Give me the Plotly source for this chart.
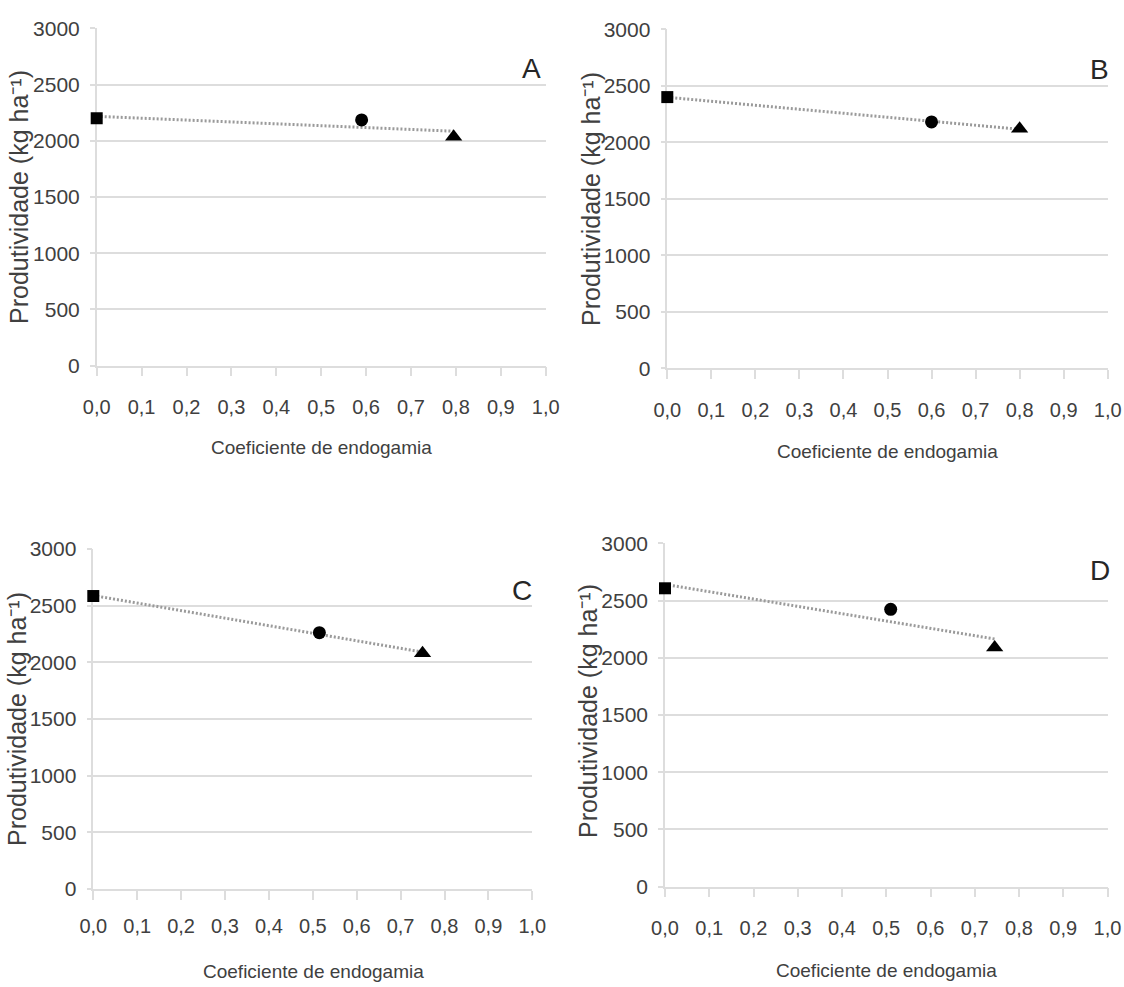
import numpy as np
import plotly.graph_objects as go

# ---------------- data ----------------
PANEL_LABELS = ["A", "B", "C", "D"]

X_A = [0.0, 0.59, 0.795]
Y_A = [2200, 2185, 2035]
X_B = [0.0, 0.60, 0.80]
Y_B = [2400, 2180, 2120]
X_C = [0.0, 0.515, 0.75]
Y_C = [2585, 2262, 2080]
X_D = [0.0, 0.51, 0.745]
Y_D = [2607, 2423, 2090]

X_TICKS = [0.0, 0.1, 0.2, 0.3, 0.4, 0.5, 0.6, 0.7, 0.8, 0.9, 1.0]
X_TICK_LABELS = ["0,0", "0,1", "0,2", "0,3", "0,4", "0,5", "0,6", "0,7", "0,8", "0,9", "1,0"]
Y_TICKS = [0, 500, 1000, 1500, 2000, 2500, 3000]
Y_TICK_LABELS = ["0", "500", "1000", "1500", "2000", "2500", "3000"]

X_TITLE = "Coeficiente de endogamia"
Y_TITLE = "Produtividade (kg ha⁻¹)"

# ---------------- style / layout ----------------
W, H = 1124, 987
FONT = "Liberation Sans, Arial, sans-serif"
TXT = "#404040"
GRID = "#dddddd"
SYMBOLS = ["square", "circle", "triangle-up"]
SIZES = [12, 13, 15]

# pixel geometry per panel: left, right, top (y=3000), bottom (y=0)
GEOM = [
    (96.7, 545.7, 28.3, 365.6),
    (667.3, 1107.7, 29.3, 368.3),
    (93.3, 532.3, 549.0, 889.0),
    (665.0, 1107.5, 543.3, 886.7),
]
XTITLE_POS = [(321, 447), (887, 451), (313, 971), (886, 970)]
YTITLE_POS = [(19, 197), (591, 199), (17, 719), (588, 711)]
LETTER_POS = [(531.7, 68.3), (1099, 70), (521.7, 590), (1099.6, 570)]
XLAB_STANDOFF = [14, 14, 9, 14]

data = [(X_A, Y_A), (X_B, Y_B), (X_C, Y_C), (X_D, Y_D)]

fig = go.Figure()
layout = dict(
    width=W, height=H,
    margin=dict(l=0, r=0, t=0, b=0, autoexpand=False),
    paper_bgcolor="white", plot_bgcolor="white",
    showlegend=False,
    annotations=[],
)

for i, (xs, ys) in enumerate(data):
    k = "" if i == 0 else str(i + 1)
    xa, ya = "x" + k, "y" + k
    l, r, t, b = GEOM[i]

    # linear trendline fitted from the data
    slope, intercept = np.polyfit(xs, ys, 1)
    xt = np.array([min(xs), max(xs)])
    fig.add_trace(go.Scatter(
        x=xt, y=intercept + slope * xt, mode="lines", xaxis=xa, yaxis=ya,
        line=dict(color="#9a9a9a", width=3, dash="2px,2px"),
        hoverinfo="skip", cliponaxis=False,
    ))
    for j in range(len(xs)):
        fig.add_trace(go.Scatter(
            x=[xs[j]], y=[ys[j]], mode="markers", xaxis=xa, yaxis=ya,
            marker=dict(symbol=SYMBOLS[j], size=SIZES[j], color="black",
                        line=dict(width=0)),
            cliponaxis=False,
        ))

    layout["xaxis" + k] = dict(
        domain=[l / W, r / W], anchor=ya, range=[0, 1],
        tickvals=X_TICKS, ticktext=X_TICK_LABELS,
        showgrid=False, zeroline=False, automargin=False,
        showline=True, linecolor=GRID, linewidth=1.5, layer="below traces",
        ticks="outside", ticklen=9, tickcolor=GRID, tickwidth=1.5,
        ticklabelstandoff=XLAB_STANDOFF[i],
        tickfont=dict(family=FONT, size=20, color=TXT),
        fixedrange=True,
    )
    layout["yaxis" + k] = dict(
        domain=[1 - b / H, 1 - t / H], anchor=xa, range=[0, 3000],
        tickvals=Y_TICKS, ticktext=Y_TICK_LABELS,
        showgrid=True, gridcolor=GRID, gridwidth=1.5, zeroline=False,
        automargin=False,
        showline=True, linecolor=GRID, linewidth=1.5, layer="below traces",
        ticks="outside", ticklen=5, tickcolor=GRID, tickwidth=1.5,
        ticklabelstandoff=6,
        tickfont=dict(family=FONT, size=21, color=TXT),
        fixedrange=True,
    )

    px_, py_ = XTITLE_POS[i]
    layout["annotations"].append(dict(
        text=X_TITLE, x=px_ / W, y=1 - py_ / H, xref="paper", yref="paper",
        xanchor="center", yanchor="middle", showarrow=False,
        font=dict(family=FONT, size=19, color=TXT)))
    px_, py_ = YTITLE_POS[i]
    layout["annotations"].append(dict(
        text=Y_TITLE, x=px_ / W, y=1 - py_ / H, xref="paper", yref="paper",
        xanchor="center", yanchor="middle", showarrow=False, textangle=-90,
        font=dict(family=FONT, size=25, color=TXT)))
    px_, py_ = LETTER_POS[i]
    layout["annotations"].append(dict(
        text=PANEL_LABELS[i], x=px_ / W, y=1 - py_ / H, xref="paper", yref="paper",
        xanchor="center", yanchor="middle", showarrow=False,
        font=dict(family=FONT, size=28, color="#262626")))

fig.update_layout(**layout)
fig.write_html("out.html")
